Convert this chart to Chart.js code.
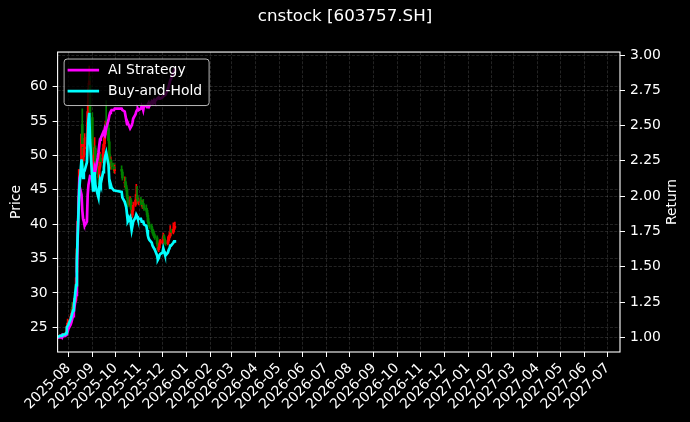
<!DOCTYPE html>
<html>
<head>
<meta charset="utf-8">
<script src="https://cdn.jsdelivr.net/npm/chart.js@4.4.0/dist/chart.umd.min.js"></script>
<style>
body { margin: 0; background: #000; }
#wrap { width: 690px; height: 422px; }
</style>
</head>
<body>
<div id="wrap"><canvas id="myChart"></canvas></div>
<script>
// trading days
var dates = [
  '2025-07-18','2025-07-21','2025-07-22','2025-07-23','2025-07-24','2025-07-25','2025-07-28','2025-07-29','2025-07-30','2025-07-31',
  '2025-08-01','2025-08-04','2025-08-05','2025-08-06','2025-08-07','2025-08-08','2025-08-11','2025-08-12','2025-08-13','2025-08-14',
  '2025-08-15','2025-08-18','2025-08-19','2025-08-20','2025-08-21','2025-08-22','2025-08-25','2025-08-26','2025-08-27','2025-08-28',
  '2025-08-29','2025-09-01','2025-09-02','2025-09-03','2025-09-04','2025-09-05','2025-09-08','2025-09-09','2025-09-10','2025-09-11',
  '2025-09-12','2025-09-15','2025-09-16','2025-09-17','2025-09-18','2025-09-19','2025-09-22','2025-09-23','2025-09-24','2025-09-25',
  '2025-09-26','2025-09-29','2025-09-30','2025-10-09','2025-10-10','2025-10-13','2025-10-14','2025-10-15','2025-10-16','2025-10-17',
  '2025-10-20','2025-10-21','2025-10-22','2025-10-23','2025-10-24','2025-10-27','2025-10-28','2025-10-29','2025-10-30','2025-10-31',
  '2025-11-03','2025-11-04','2025-11-05','2025-11-06','2025-11-07','2025-11-10','2025-11-11','2025-11-12','2025-11-13','2025-11-14',
  '2025-11-17','2025-11-18','2025-11-19','2025-11-20','2025-11-21','2025-11-24','2025-11-25','2025-11-26','2025-11-27','2025-11-28',
  '2025-12-01','2025-12-02','2025-12-03','2025-12-04','2025-12-05','2025-12-08','2025-12-09','2025-12-10','2025-12-11','2025-12-12',
  '2025-12-15','2025-12-16','2025-12-17'
];

var open = [
  23.40,23.50,23.74,23.70,23.80,23.72,23.95,24.00,24.20,25.15,
  25.40,25.60,26.55,27.90,27.50,27.95,28.90,33.00,37.50,41.50,
  44.50,49.50,54.50,51.20,49.80,51.00,51.50,53.00,56.40,59.70,
  60.20,55.50,49.00,47.80,50.00,51.00,48.80,47.20,46.80,48.30,
  49.60,49.20,51.00,51.70,53.00,54.50,54.00,52.00,49.50,48.40,
  48.90,48.40,47.80,48.00,47.60,46.00,46.20,45.60,45.00,43.90,
  42.80,43.50,42.30,41.30,42.00,42.80,43.60,44.00,43.70,43.20,
  43.30,43.20,42.70,42.80,42.70,42.30,42.00,41.30,40.30,39.90,
  39.70,39.20,38.70,38.50,38.30,38.00,37.10,36.30,36.60,37.20,
  37.30,37.60,38.30,37.80,37.30,37.20,37.60,38.00,38.30,39.00,
  38.80,39.20,39.50
];
var high = [
  23.70,23.90,23.85,23.95,23.90,24.10,24.20,24.50,25.60,26.20,
  26.00,26.90,27.60,28.60,28.30,29.20,32.20,36.40,40.40,44.20,
  47.95,53.10,56.80,52.40,52.50,53.20,54.80,57.90,60.50,63.00,
  61.50,56.20,50.50,51.20,52.60,51.40,49.60,48.00,49.00,50.50,
  50.20,51.60,52.50,54.00,55.00,58.00,54.50,52.40,50.20,49.80,
  49.30,48.90,48.60,48.50,47.90,46.90,46.80,46.00,45.30,44.20,
  44.00,43.80,42.60,42.50,43.20,44.30,45.80,45.50,44.20,43.80,
  43.90,43.50,43.40,43.60,43.00,42.80,42.30,41.60,40.80,40.30,
  40.00,39.50,39.20,39.00,38.60,38.30,37.40,37.20,37.60,37.80,
  38.00,38.70,38.50,38.00,37.60,38.20,38.40,38.90,39.80,39.30,
  40.20,39.90,40.30
];
var low = [
  23.35,23.45,23.55,23.60,23.60,23.65,23.80,23.90,24.10,25.00,
  25.10,25.40,26.30,27.20,27.30,27.80,28.70,32.80,36.90,40.80,
  43.80,48.60,50.90,48.30,49.20,50.10,51.00,52.80,55.80,58.80,
  55.60,49.60,46.80,47.50,49.50,48.50,46.90,45.80,46.50,48.00,
  48.60,48.90,50.40,51.20,52.50,53.80,51.80,49.30,48.00,48.00,
  48.00,47.50,47.40,47.20,46.40,45.40,45.20,44.80,43.70,42.50,
  42.60,42.10,41.10,41.00,41.80,42.60,43.40,43.50,43.00,42.80,
  42.90,42.50,42.30,42.40,42.00,41.80,41.10,40.20,39.70,39.40,
  39.00,38.60,38.30,38.00,37.80,36.90,36.10,36.00,36.40,37.00,
  37.10,37.40,37.60,37.10,36.90,37.00,37.40,37.80,38.10,38.30,
  38.60,38.90,39.30
];
var close = [
  23.50,23.74,23.70,23.80,23.72,23.95,24.00,24.20,25.15,25.40,
  25.60,26.55,27.05,27.50,27.95,28.65,32.20,36.40,40.40,43.95,
  47.95,53.10,51.70,50.05,51.00,51.25,52.65,56.40,59.70,60.85,
  56.40,49.60,47.95,50.05,51.00,48.90,47.25,46.75,48.40,49.60,
  49.10,51.00,51.70,53.10,53.80,54.30,52.15,49.60,48.40,48.90,
  48.40,47.95,47.95,47.70,46.75,46.05,45.60,45.10,43.95,42.75,
  43.50,42.30,41.35,42.05,42.75,43.50,43.95,43.70,43.25,43.25,
  43.25,42.75,42.75,42.75,42.30,42.05,41.35,40.40,39.95,39.70,
  39.25,38.80,38.55,38.30,38.05,37.15,36.40,36.65,37.15,37.35,
  37.60,38.30,37.85,37.35,37.15,37.60,38.05,38.30,38.80,38.80,
  39.25,39.50,39.70
];

var aiRet = [
  1.00,1.00,1.00,1.01,1.00,1.01,1.01,1.02,1.03,1.04,
  1.06,1.09,1.11,1.13,1.15,1.18,1.30,1.48,1.69,1.90,
  2.08,2.01,1.90,1.84,1.82,1.79,1.82,2.01,2.08,2.11,
  2.14,2.13,2.11,2.15,2.20,2.18,2.27,2.31,2.36,2.40,
  2.41,2.45,2.44,2.47,2.45,2.48,2.54,2.57,2.59,2.60,
  2.61,2.61,2.62,2.62,2.61,2.60,2.57,2.54,2.51,2.52,
  2.48,2.48,2.50,2.52,2.55,2.58,2.60,2.61,2.62,2.61,
  2.62,2.64,2.63,2.61,2.64,2.64,2.63,2.65,2.66,2.64,
  2.67,2.66,2.67,2.68,2.67,2.69,2.69,2.70,2.69,2.69,
  2.70,2.71,2.71,2.71,2.72,2.76,2.78,2.80,2.82,2.83,
  2.87,2.89,2.91
];
var holdRet = [
  1.00,1.01,1.01,1.01,1.01,1.02,1.02,1.03,1.07,1.08,
  1.09,1.13,1.15,1.17,1.19,1.22,1.37,1.55,1.72,1.87,
  2.04,2.26,2.20,2.13,2.17,2.18,2.24,2.40,2.54,2.59,
  2.40,2.11,2.04,2.13,2.17,2.08,2.01,1.99,2.06,2.11,
  2.09,2.17,2.20,2.26,2.29,2.31,2.22,2.11,2.06,2.08,
  2.06,2.04,2.04,2.03,1.99,1.96,1.94,1.92,1.87,1.82,
  1.85,1.80,1.76,1.79,1.82,1.85,1.87,1.86,1.84,1.84,
  1.84,1.82,1.82,1.82,1.80,1.79,1.76,1.72,1.70,1.69,
  1.67,1.65,1.64,1.63,1.62,1.58,1.55,1.56,1.58,1.59,
  1.60,1.63,1.61,1.59,1.58,1.60,1.62,1.63,1.65,1.65,
  1.67,1.68,1.69
];

var monthLabels = ['2025-08','2025-09','2025-10','2025-11','2025-12','2026-01','2026-02','2026-03',
  '2026-04','2026-05','2026-06','2026-07','2026-08','2026-09','2026-10','2026-11','2026-12',
  '2027-01','2027-02','2027-03','2027-04','2027-05','2027-06','2027-07'];
var priceTicks = [25, 30, 35, 40, 45, 50, 55, 60];
var returnTicks = [1.00, 1.25, 1.50, 1.75, 2.00, 2.25, 2.50, 2.75, 3.00];

var FONT = 'DejaVu Sans';
Chart.defaults.font.family = FONT;
Chart.defaults.color = '#ffffff';

// days since 2025-08-01
function dayNum(s) {
  var p = s.split('-');
  return (Date.UTC(+p[0], +p[1] - 1, +p[2]) - Date.UTC(2025, 7, 1)) / 86400000;
}

var xs = dates.map(dayNum);
var wicks = [], bodies = [], candleColors = [];
for (var i = 0; i < dates.length; i++) {
  wicks.push({x: xs[i], y: [low[i], high[i]]});
  bodies.push({x: xs[i], y: [open[i], close[i]]});
  candleColors.push(close[i] >= open[i] ? '#ff0000' : '#008000');
}

var gridOpts = {
  color: 'rgba(255,255,255,0.2)',
  lineWidth: 0.7,
  tickColor: '#ffffff',
  tickWidth: 1,
  tickLength: 5,
  tickBorderDash: []
};
var borderOpts = { display: false, dash: [3, 1.6] };

var framePlugin = {
  id: 'frame',
  beforeDraw: function (chart) {
    var c = chart.ctx;
    c.save();
    c.fillStyle = '#000';
    c.fillRect(0, 0, chart.width, chart.height);
    c.restore();
  },
  afterDraw: function (chart) {
    var c = chart.ctx, a = chart.chartArea;
    c.save();
    c.strokeStyle = '#ffffff';
    c.lineWidth = 1.1;
    c.strokeRect(a.left, a.top, a.right - a.left, a.bottom - a.top);

    // legend box, upper left
    var bx = a.left + 6.5, by = a.top + 7, bw = 145, bh = 46.5, r = 3;
    c.beginPath();
    c.moveTo(bx + r, by);
    c.lineTo(bx + bw - r, by);
    c.arcTo(bx + bw, by, bx + bw, by + r, r);
    c.lineTo(bx + bw, by + bh - r);
    c.arcTo(bx + bw, by + bh, bx + bw - r, by + bh, r);
    c.lineTo(bx + r, by + bh);
    c.arcTo(bx, by + bh, bx, by + bh - r, r);
    c.lineTo(bx, by + r);
    c.arcTo(bx, by, bx + r, by, r);
    c.closePath();
    c.fillStyle = 'rgba(0,0,0,0.8)';
    c.fill();
    c.strokeStyle = 'rgba(204,204,204,0.9)';
    c.lineWidth = 1;
    c.stroke();

    var items = chart.data.datasets.filter(function (d) { return d.type === 'line'; });
    c.font = '13.9px "' + FONT + '"';
    c.textBaseline = 'middle';
    c.textAlign = 'left';
    items.forEach(function (d, k) {
      var yy = by + 11 + k * 21;
      c.strokeStyle = d.borderColor;
      c.lineWidth = 2.7;
      c.beginPath();
      c.moveTo(bx + 3.5, yy);
      c.lineTo(bx + 35, yy);
      c.stroke();
      c.fillStyle = '#ffffff';
      c.fillText(d.label, bx + 44, yy);
    });

    // right axis title
    c.translate(672.5, (a.top + a.bottom) / 2);
    c.rotate(-Math.PI / 2);
    c.textAlign = 'center';
    c.fillText('Return', 0, 0);
    c.restore();
  }
};

var ctx = document.getElementById('myChart').getContext('2d');

var myChart = new Chart(ctx, {
  type: 'bar',
  data: {
    datasets: [{
      type: 'line',
      label: 'AI Strategy',
      data: xs.map(function (x, i) { return {x: x, y: aiRet[i]}; }),
      yAxisID: 'y1',
      borderColor: '#ff00ff',
      borderWidth: 2.7,
      pointRadius: 0,
      tension: 0,
      order: 1
    }, {
      type: 'line',
      label: 'Buy-and-Hold',
      data: xs.map(function (x, i) { return {x: x, y: holdRet[i]}; }),
      yAxisID: 'y1',
      borderColor: '#00ffff',
      borderWidth: 2.7,
      pointRadius: 0,
      tension: 0,
      order: 0
    }, {
      type: 'bar',
      label: 'wick',
      data: wicks,
      yAxisID: 'y',
      backgroundColor: candleColors,
      barThickness: 1,
      grouped: false,
      order: 3
    }, {
      type: 'bar',
      label: 'body',
      data: bodies,
      yAxisID: 'y',
      backgroundColor: candleColors,
      barThickness: 2,
      grouped: false,
      order: 2
    }]
  },
  options: {
    responsive: true,
    maintainAspectRatio: false,
    animation: false,
    layout: { padding: 0 },
    plugins: {
      legend: { display: false },
      tooltip: { enabled: false },
      title: {
        display: true,
        text: 'cnstock [603757.SH]',
        color: '#ffffff',
        font: { size: 16.7, weight: 'normal' },
        padding: { top: 7, bottom: 25 }
      }
    },
    scales: {
      x: {
        type: 'linear',
        min: -14,
        max: 715,
        offset: false,
        afterBuildTicks: function (s) {
          s.ticks = monthLabels.map(function (l) { return {value: dayNum(l + '-01')}; });
        },
        afterFit: function (s) { s.height = 70; },
        ticks: {
          autoSkip: false,
          minRotation: 45,
          maxRotation: 45,
          color: '#ffffff',
          font: { size: 13.9 },
          padding: 3,
          callback: function (v, i) { return monthLabels[i]; }
        },
        grid: Object.assign({ offset: false }, gridOpts),
        border: borderOpts
      },
      y: {
        position: 'left',
        min: 21.4,
        max: 65.05,
        afterBuildTicks: function (s) {
          s.ticks = priceTicks.map(function (v) { return {value: v}; });
        },
        afterFit: function (s) { s.width = 57.6; },
        ticks: {
          color: '#ffffff',
          font: { size: 13.9 },
          padding: 5,
          callback: function (v, i) { return String(priceTicks[i]); }
        },
        grid: gridOpts,
        border: borderOpts,
        title: {
          display: true,
          text: 'Price',
          color: '#ffffff',
          font: { size: 13.9 },
          padding: { top: 8.4, bottom: 0 }
        }
      },
      y1: {
        position: 'right',
        min: 0.896,
        max: 3.021,
        afterBuildTicks: function (s) {
          s.ticks = returnTicks.map(function (v) { return {value: v}; });
        },
        afterFit: function (s) { s.width = 70; },
        ticks: {
          color: '#ffffff',
          font: { size: 13.9 },
          padding: 5,
          callback: function (v, i) { return returnTicks[i].toFixed(2); }
        },
        grid: gridOpts,
        border: borderOpts
      }
    }
  },
  plugins: [framePlugin]
});
</script>
</body>
</html>
